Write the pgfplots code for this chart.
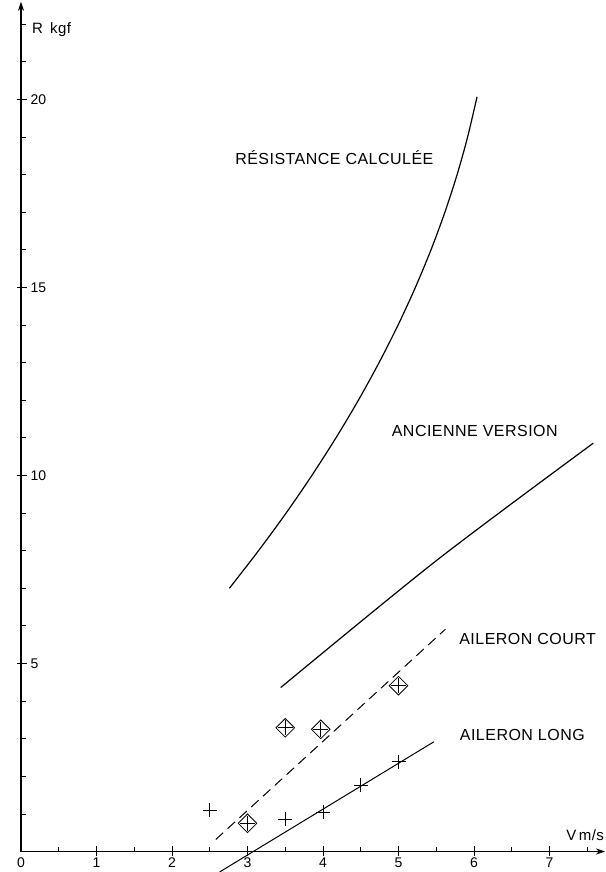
\documentclass[border=0pt]{standalone}
\usepackage{fontspec}
\setmainfont{Liberation Sans}
\newfontfamily\lab[LetterSpace=3]{Liberation Sans}
\usepackage{pgfplots}
\pgfplotsset{compat=1.18}
\usetikzlibrary{arrows.meta}
\begin{document}
\begin{tikzpicture}
\begin{axis}[
  scale only axis, width=584bp, height=849.76bp,
  xmin=0, xmax=7.735, ymin=0, ymax=22.6,
  axis lines=left,
  axis line style={line width=1.1bp, -{Stealth[length=9bp,width=6bp]}},
  clip=false,
  xtick={0,...,7}, ytick={5,10,15,20},
  minor xtick={0.5,1.5,...,7.5},
  minor ytick={1,2,3,4,6,7,8,9,11,12,13,14,16,17,18,19,21,22},
  tick align=inside,
  major tick length=6bp, minor tick length=5bp,
  tick style={line width=0.8bp, black},
  extra x ticks={1,...,7}, extra y ticks={5,10,15,20},
  extra x tick labels={}, extra y tick labels={},
  extra tick style={tick align=outside, major tick length=4bp},
  /pgf/number format/assume math mode=true,
  ticklabel style={font=\fontsize{14bp}{16bp}\selectfont},
  yticklabel style={anchor=west, xshift=6bp},
  xticklabel style={yshift=-3bp},
]
% Resistance calculee
\addplot[black, line width=1.2bp, smooth] coordinates {
 (2.76,7.0) (3.146,8) (3.511,9) (3.852,10) (4.171,11) (4.468,12) (4.742,13)
 (4.994,14) (5.223,15) (5.430,16) (5.614,17) (5.776,18) (5.915,19) (6.04,20.07)};
% Ancienne version
\addplot[black, line width=1.2bp, smooth] coordinates {(3.44,4.36) (5.51,7.75) (7.58,10.86)};
% Aileron court
\addplot[black, line width=1bp, dash pattern=on 10bp off 6bp] coordinates {(2.58,0.32) (5.62,5.91)};
% Aileron long
\addplot[black, line width=1bp] coordinates {(2.63,-0.545) (5.47,2.92)};
% crosses (aileron long)
\addplot[only marks, mark=+, mark size=7bp, mark options={line width=0.8bp, black}] coordinates {
 (2.5,1.10) (3.5,0.86) (4.0,1.04) (4.5,1.77) (5.0,2.39)};
% diamonds (aileron court)
\addplot[only marks, mark=square, mark size=6.6bp, mark options={rotate=45, line width=0.8bp, black, rounded corners=1.2bp}] coordinates {
 (3.0,0.75) (3.5,3.29) (3.97,3.25) (5.0,4.41)};
\addplot[only marks, mark=+, mark size=7.5bp, mark options={line width=0.8bp, black}] coordinates {
 (3.0,0.75) (3.5,3.29) (3.97,3.25) (5.0,4.41)};
\node[font=\lab\fontsize{16bp}{18bp}\selectfont] at (axis cs:4.15,18.44) {RÉSISTANCE CALCULÉE};
\node[font=\lab\fontsize{16bp}{18bp}\selectfont] at (axis cs:6.01,11.19) {ANCIENNE VERSION};
\node[font=\lab\fontsize{16bp}{18bp}\selectfont] at (axis cs:6.71,5.65) {AILERON COURT};
\node[font=\lab\fontsize{16bp}{18bp}\selectfont] at (axis cs:6.64,3.10) {AILERON LONG};
\node[font=\lab\fontsize{15bp}{17bp}\selectfont, anchor=west, inner sep=0pt] at (axis cs:0.146,21.85) {R\, kgf};
\node[font=\lab\fontsize{15bp}{17bp}\selectfont, anchor=west, inner sep=0pt] at (axis cs:7.22,0.44) {V\,m/s};
\coordinate (bbsw) at (axis cs:-0.278,-0.545);
\coordinate (bbne) at (axis cs:7.748,22.646);
\end{axis}
\pgfresetboundingbox
\path[use as bounding box] (bbsw) rectangle (bbne);
\end{tikzpicture}
\end{document}
